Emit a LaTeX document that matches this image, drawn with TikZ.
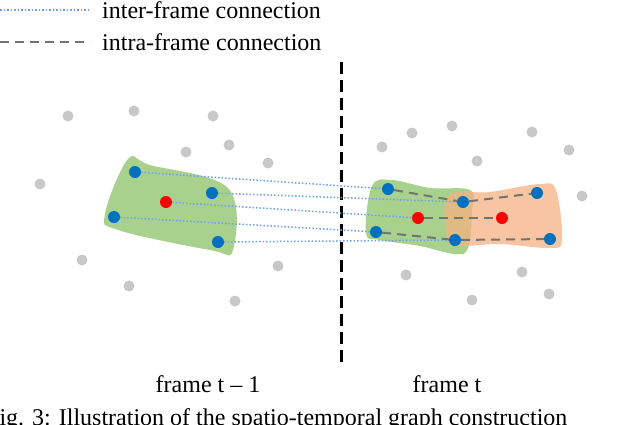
\documentclass[tikz,border=0pt]{standalone}
\usepackage{fontspec}
\setmainfont{Liberation Serif}
\definecolor{gblob}{HTML}{A9D18E}
\definecolor{oblob}{HTML}{F4B183}
\definecolor{bpt}{HTML}{0070C0}
\definecolor{gpt}{HTML}{C8C8C8}
\definecolor{iline}{HTML}{6FA0F0}
\begin{document}
\begin{tikzpicture}[x=1pt,y=-1pt,
  gdot/.style={circle,fill=gpt,inner sep=0pt,minimum size=11pt},
  bdot/.style={circle,fill=bpt,inner sep=0pt,minimum size=12pt},
  rdot/.style={circle,fill=red,inner sep=0pt,minimum size=12pt},
  inter/.style={iline,dotted,line width=1.5pt},
  intra/.style={gray!90!black,line width=2pt,dash pattern=on 9pt off 6pt},
  lbl/.style={font=\fontsize{24}{28}\selectfont,inner sep=0pt}]
\useasboundingbox (0,0) rectangle (622,424);
\clip (0,0) rectangle (622,424);
% legend
\draw[inter] (0,10) -- (90,10);
\node[lbl,anchor=west] (l1) at (102,10) {inter-frame connection};
\draw[intra] (0,42) -- (90,42);
\node[lbl,anchor=west] (l2) at (102,42) {intra-frame connection};
% divider
\draw[black,line width=3pt,dash pattern=on 12pt off 6pt] (341,62) -- (341,362);
% blobs
\fill[gblob] plot[smooth cycle,tension=0.6] coordinates {(128,159)(150,165)(228,188)(233,250)(210,250)(118,230)(105,214)};
\fill[gblob] plot[smooth cycle,tension=0.6] coordinates {(372,186)(392,180)(430,188)(470,190)(472,210)(468,248)(455,254)(420,246)(380,240)(366,233)};
\fill[oblob,opacity=0.75] plot[smooth cycle,tension=0.6] coordinates {(448,196)(490,192)(540,184)(556,190)(562,240)(550,248)(500,244)(460,246)(448,240)};
% gray dots
\foreach \p in {(68,116),(134,111),(213,116),(40,184),(186,152),(229,145),(268,163),(82,260),(129,286),(278,266),(235,301),(412,133),(452,126),(382,147),(477,161),(532,132),(569,150),(582,196),(406,275),(522,272),(472,300),(549,294)}
  \node[gdot] at \p {};
% nodes
\node[bdot] (a1) at (135,172) {};
\node[bdot] (a2) at (212,193) {};
\node[rdot] (ar) at (166,202) {};
\node[bdot] (a3) at (114,217) {};
\node[bdot] (a4) at (218,242) {};
\node[bdot] (b1) at (388,189) {};
\node[bdot] (b2) at (463,202) {};
\node[rdot] (br) at (418,218) {};
\node[bdot] (b3) at (376,232) {};
\node[bdot] (b4) at (455,240) {};
\node[bdot] (c1) at (537,193) {};
\node[rdot] (cr) at (502,218) {};
\node[bdot] (c4) at (550,239) {};
% connections
\draw[inter] (a1) -- (b1);
\draw[inter] (a2) -- (b2);
\draw[inter] (ar) -- (br);
\draw[inter] (a3) -- (b3);
\draw[inter] (a4) -- (b4);
\draw[intra] (b1) -- (b2) -- (c1);
\draw[intra] (br) -- (cr);
\draw[intra] (b3) -- (b4) -- (c4);
% labels
\node[lbl] (f1) at (208,384) {frame t -- 1};
\node[lbl] (f2) at (447,384) {frame t};
\node[lbl,anchor=north west] (cap) at (-14,408) {Fig. 3: Illustration of the spatio-temporal graph construction};
\end{tikzpicture}
\end{document}
